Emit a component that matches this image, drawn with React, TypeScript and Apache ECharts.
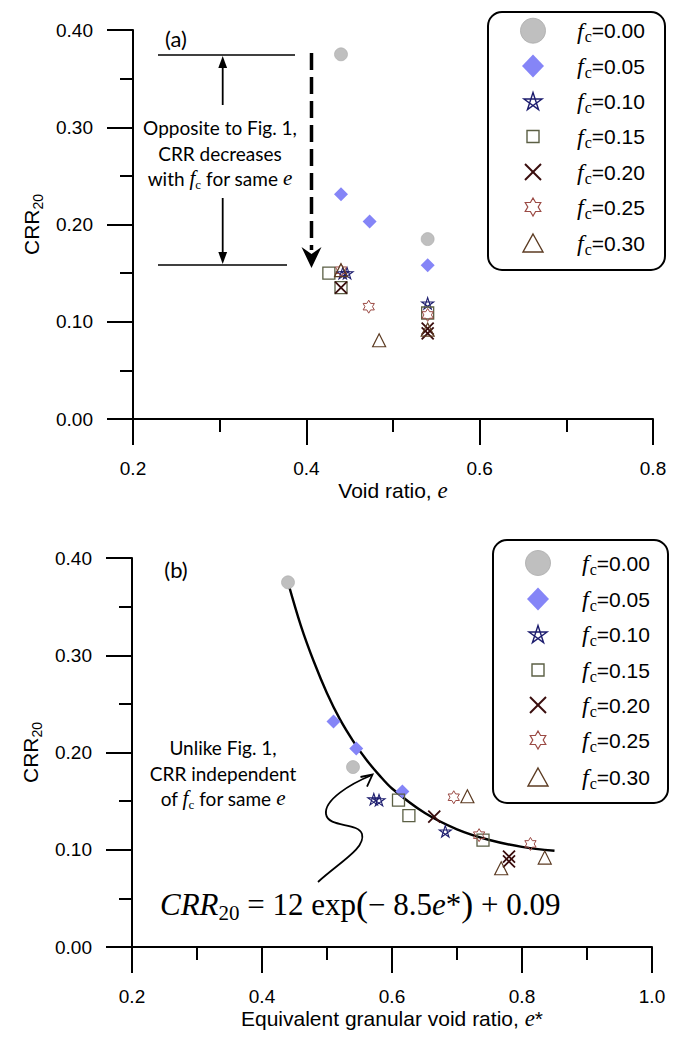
import React, { useEffect, useRef } from 'react';
import * as echarts from 'echarts';

// ---------- data ----------
const fcLabels = ['0.00', '0.05', '0.10', '0.15', '0.20', '0.25', '0.30'];

// Panel (a): CRR20 vs void ratio e
const aFc000 = [[0.44, 0.375], [0.54, 0.185]];
const aFc005 = [[0.44, 0.231], [0.473, 0.203], [0.54, 0.158]];
const aFc010 = [[0.442, 0.150], [0.447, 0.150], [0.54, 0.119]];
const aFc015 = [[0.426, 0.150], [0.44, 0.135], [0.54, 0.109]];
const aFc020 = [[0.44, 0.135], [0.54, 0.093], [0.54, 0.088]];
const aFc025 = [[0.44, 0.153], [0.472, 0.1155], [0.54, 0.107]];
const aFc030 = [[0.44, 0.153], [0.484, 0.081], [0.54, 0.092]];

// Panel (b): CRR20 vs equivalent granular void ratio e*
const bFc000 = [[0.44, 0.375], [0.54, 0.185]];
const bFc005 = [[0.51, 0.232], [0.545, 0.204], [0.616, 0.160]];
const bFc010 = [[0.572, 0.152], [0.58, 0.151], [0.682, 0.119]];
const bFc015 = [[0.61, 0.151], [0.626, 0.135], [0.74, 0.110]];
const bFc020 = [[0.665, 0.134], [0.78, 0.093], [0.78, 0.088]];
const bFc025 = [[0.695, 0.154], [0.734, 0.115], [0.813, 0.106]];
const bFc030 = [[0.716, 0.155], [0.768, 0.081], [0.835, 0.092]];

// fitted curve CRR20 = 12 exp(-8.5 e*) + 0.09
const curveX = [0.44, 0.46, 0.48, 0.50, 0.52, 0.54, 0.56, 0.58, 0.60, 0.65, 0.70, 0.75, 0.80, 0.85];
const curveY = [0.375, 0.330, 0.293, 0.261, 0.234, 0.212, 0.193, 0.177, 0.163, 0.138, 0.121, 0.110, 0.103, 0.099];

const yTicks = [0, 0.1, 0.2, 0.3, 0.4];

// ---------- styles ----------
const SANS = '"Liberation Sans", Arial, sans-serif';
const SERIF = '"Liberation Serif", "Times New Roman", serif';
const NOTE = 'Lato, "Open Sans", sans-serif';

const C_CIRCLE = '#bfbfbf';
const C_CIRCLE_B = '#a9a9a9';
const C_DIAMOND = '#8585f7';
const C_STAR = '#1c1c6e';
const C_SQUARE = '#5b5f44';
const C_CROSS = '#3a0d0d';
const C_STAR6 = '#9b4a44';
const C_TRI = '#5c3b22';

function starPts(cx: number, cy: number, r: number, ri: number, n: number) {
  const pts: number[][] = [];
  for (let k = 0; k < 2 * n; k++) {
    const ang = (-90 + (180 / n) * k) * Math.PI / 180;
    const rr = k % 2 === 0 ? r : ri;
    pts.push([cx + rr * Math.cos(ang), cy + rr * Math.sin(ang)]);
  }
  return pts;
}
function pentagramPts(cx: number, cy: number, r: number) {
  const v: number[][] = [];
  for (let k = 0; k < 5; k++) {
    const ang = (-90 + 72 * k) * Math.PI / 180;
    v.push([cx + r * Math.cos(ang), cy + r * Math.sin(ang)]);
  }
  return [v[0], v[2], v[4], v[1], v[3]];
}
function toPath(pts: number[][]) {
  return 'path://M' + pts.map((p) => p[0].toFixed(3) + ' ' + p[1].toFixed(3)).join(' L') + ' Z';
}
const PENTAGRAM = toPath(pentagramPts(10, 10, 10));
const HEXAGRAM = toPath(starPts(10, 10, 10, 10 / Math.sqrt(3), 6));
const CROSS = 'path://M0 0 L10 10 M10 0 L0 10';

echarts.graphic.registerShape(
  'squiggle',
  echarts.graphic.extendPath('M318,882 C340,862 366,848 362,834 C358,822 328,828 326,814 C324,800 350,784 372,775', {})
);

const seriesDefs = [
  { sym: 'circle', size: 13, keep: false, style: { color: C_CIRCLE, borderColor: C_CIRCLE_B, borderWidth: 0.6, opacity: 1 } },
  { sym: 'diamond', size: 14, keep: false, style: { color: C_DIAMOND, opacity: 1 } },
  { sym: PENTAGRAM, size: 12, keep: true, style: { color: 'rgba(0,0,0,0)', borderColor: C_STAR, borderWidth: 1.1, opacity: 1 } },
  { sym: 'rect', size: 12, keep: false, style: { color: 'rgba(0,0,0,0)', borderColor: C_SQUARE, borderWidth: 1.3, opacity: 1 } },
  { sym: CROSS, size: 12, keep: true, style: { color: 'rgba(0,0,0,0)', borderColor: C_CROSS, borderWidth: 1.8, opacity: 1 } },
  { sym: HEXAGRAM, size: 13, keep: true, style: { color: 'rgba(0,0,0,0)', borderColor: C_STAR6, borderWidth: 1, opacity: 1 } },
  { sym: 'triangle', size: 13, keep: false, style: { color: 'rgba(0,0,0,0)', borderColor: C_TRI, borderWidth: 1.2, opacity: 1 } },
];

const aData = [aFc000, aFc005, aFc010, aFc015, aFc020, aFc025, aFc030];
const bData = [bFc000, bFc005, bFc010, bFc015, bFc020, bFc025, bFc030];

function scatterSeries(data: number[][][], idx: number) {
  return data.map((d, i) => ({
    type: 'scatter',
    name: 'fc=' + fcLabels[i] + (idx === 0 ? ' (a)' : ' (b)'),
    data: d,
    xAxisIndex: idx,
    yAxisIndex: idx,
    symbol: seriesDefs[i].sym,
    symbolSize: seriesDefs[i].size,
    symbolKeepAspect: seriesDefs[i].keep,
    itemStyle: seriesDefs[i].style,
    silent: true,
    z: 3 + i,
  }));
}

const axisCommon = {
  axisLine: { show: true, onZero: false, lineStyle: { color: '#000', width: 2 } },
  axisTick: { show: true, inside: false, length: 26, lineStyle: { color: '#000', width: 2 } },
  minorTick: { show: true, splitNumber: 2, length: 13, lineStyle: { color: '#000', width: 2 } },
  splitLine: { show: false },
  minorSplitLine: { show: false },
};

function xAxis(idx: number, max: number, name: string) {
  return {
    type: 'value',
    gridIndex: idx,
    min: 0.2,
    max,
    interval: 0.2,
    ...axisCommon,
    axisLabel: { color: '#000', fontFamily: SANS, fontSize: 19, margin: 40, formatter: (v: number) => v.toFixed(1) },
    name,
    nameLocation: 'middle',
    nameGap: 50,
    nameTextStyle: {
      rich: {
        a: { fontFamily: SANS, fontSize: 21, color: '#000' },
        e: { fontFamily: SERIF, fontStyle: 'italic', fontSize: 23, color: '#000' },
      },
    },
  };
}

function yAxis(idx: number) {
  return {
    type: 'value',
    gridIndex: idx,
    min: yTicks[0],
    max: yTicks[yTicks.length - 1],
    interval: 0.1,
    ...axisCommon,
    axisLabel: { color: '#000', fontFamily: SANS, fontSize: 19, margin: 40, formatter: (v: number) => v.toFixed(2) },
    name: '{a|CRR}{s|20}',
    nameLocation: 'middle',
    nameGap: 88,
    nameTextStyle: {
      rich: {
        a: { fontFamily: SANS, fontSize: 21, lineHeight: 24, color: '#000' },
        s: { fontFamily: SANS, fontSize: 14, lineHeight: 14, padding: [14, 0, 0, 0], color: '#000' },
      },
    },
  };
}

// ---------- legend (drawn) ----------
function legendSymbol(i: number, cx: number, cy: number): any[] {
  switch (i) {
    case 0:
      return [{ type: 'circle', shape: { cx, cy, r: 12.5 }, style: { fill: C_CIRCLE, stroke: C_CIRCLE_B, lineWidth: 0.8 } }];
    case 1:
      return [{ type: 'polygon', shape: { points: [[cx, cy - 11.5], [cx + 11, cy], [cx, cy + 11.5], [cx - 11, cy]] }, style: { fill: C_DIAMOND } }];
    case 2:
      return [{ type: 'polygon', shape: { points: pentagramPts(cx, cy + 1, 9.5) }, style: { fill: 'none', stroke: C_STAR, lineWidth: 1.4 } }];
    case 3:
      return [{ type: 'rect', shape: { x: cx - 6, y: cy - 6, width: 12, height: 12 }, style: { fill: 'none', stroke: C_SQUARE, lineWidth: 1.4 } }];
    case 4:
      return [
        { type: 'line', shape: { x1: cx - 8, y1: cy - 8, x2: cx + 8, y2: cy + 8 }, style: { stroke: C_CROSS, lineWidth: 2 } },
        { type: 'line', shape: { x1: cx + 8, y1: cy - 8, x2: cx - 8, y2: cy + 8 }, style: { stroke: C_CROSS, lineWidth: 2 } },
      ];
    case 5:
      return [{ type: 'polygon', shape: { points: starPts(cx, cy, 9, 5.2, 6) }, style: { fill: 'none', stroke: C_STAR6, lineWidth: 1.2 } }];
    default:
      return [{ type: 'polygon', shape: { points: [[cx, cy - 9], [cx + 10, cy + 9], [cx - 10, cy + 9]] }, style: { fill: 'none', stroke: C_TRI, lineWidth: 1.4 } }];
  }
}

function legend(x: number, y: number, w: number, h: number, symX: number, textX: number, rows: number[]) {
  const els: any[] = [
    { type: 'rect', shape: { x, y, width: w, height: h, r: 14 }, style: { fill: '#fff', stroke: '#000', lineWidth: 2 }, z: 10 },
  ];
  rows.forEach((ry, i) => {
    legendSymbol(i, symX, ry).forEach((e) => els.push({ ...e, z: 11 }));
    els.push({
      type: 'text',
      x: textX,
      y: ry,
      z: 11,
      style: {
        text: '{f|f}{c|c}{t|=' + fcLabels[i] + '}',
        align: 'left',
        verticalAlign: 'middle',
        rich: {
          f: { fontFamily: SERIF, fontStyle: 'italic', fontSize: 24, lineHeight: 24, fill: '#000' },
          c: { fontFamily: SERIF, fontSize: 16, lineHeight: 14, padding: [12, 0, 0, 1], fill: '#000' },
          t: { fontFamily: SANS, fontSize: 21, lineHeight: 24, fill: '#000' },
        },
      },
    });
  });
  return els;
}

function noteLine(x: number, y: number, text: string, size = 19) {
  return {
    type: 'text',
    x,
    y,
    z: 12,
    style: {
      text,
      align: 'center',
      verticalAlign: 'middle',
      rich: {
        n: { fontFamily: NOTE, fontSize: size, lineHeight: 24, fill: '#000' },
        f: { fontFamily: SERIF, fontStyle: 'italic', fontSize: 21, lineHeight: 24, fill: '#000' },
        c: { fontFamily: SERIF, fontSize: 13, lineHeight: 12, padding: [12, 0, 0, 0], fill: '#000' },
        e: { fontFamily: SERIF, fontStyle: 'italic', fontSize: 21, lineHeight: 24, fill: '#000' },
      },
    },
  };
}

const annotationsA: any[] = [
  { type: 'text', x: 176, y: 38, style: { text: '(a)', fontFamily: NOTE, fontSize: 22, fill: '#000', align: 'center', verticalAlign: 'middle' } },
  { type: 'line', shape: { x1: 158, y1: 55, x2: 295, y2: 55 }, style: { stroke: '#000', lineWidth: 1.6 } },
  { type: 'line', shape: { x1: 158, y1: 265, x2: 287, y2: 265 }, style: { stroke: '#000', lineWidth: 1.6 } },
  { type: 'line', shape: { x1: 222.7, y1: 105, x2: 222.7, y2: 64 }, style: { stroke: '#000', lineWidth: 1.8 } },
  { type: 'polygon', shape: { points: [[222.7, 56], [218.3, 68], [227.1, 68]] }, style: { fill: '#000' } },
  { type: 'line', shape: { x1: 222.7, y1: 198, x2: 222.7, y2: 256 }, style: { stroke: '#000', lineWidth: 1.8 } },
  { type: 'polygon', shape: { points: [[222.7, 264], [218.3, 252], [227.1, 252]] }, style: { fill: '#000' } },
  { type: 'line', shape: { x1: 311.5, y1: 53, x2: 311.5, y2: 250 }, style: { stroke: '#000', lineWidth: 3.5, lineDash: [17, 7] } },
  { type: 'polygon', shape: { points: [[301.5, 247], [311.5, 254], [321.5, 247], [311.5, 268]] }, style: { fill: '#000' } },
  noteLine(220, 127, '{n|Opposite to Fig. 1,}'),
  noteLine(220, 153, '{n|CRR decreases}'),
  noteLine(220, 178, '{n|with }{f|f}{c|c}{n| for same }{e|e}'),
];

const annotationsB: any[] = [
  { type: 'text', x: 176, y: 569, style: { text: '(b)', fontFamily: NOTE, fontSize: 22, fill: '#000', align: 'center', verticalAlign: 'middle' } },
  noteLine(223, 747, '{n|Unlike Fig. 1,}'),
  noteLine(223, 773, '{n|CRR independent}'),
  noteLine(223, 798, '{n|of }{f|f}{c|c}{n| for same }{e|e}'),
  { type: 'squiggle', x: 0, y: 0, z: 12, style: { fill: 'none', stroke: '#000', lineWidth: 1.8 } },
  { type: 'polyline', z: 12, shape: { points: [[360.5, 777], [372.5, 774.5], [367, 786.5]] }, style: { fill: 'none', stroke: '#000', lineWidth: 1.8 } },
  {
    type: 'text',
    x: 160,
    y: 904,
    z: 12,
    style: {
      text: '{i|CRR}{s|20}{n| = 12 exp}{p|(}{n|− 8.5}{i|e}{n|*}{p|)}{n| + 0.09}',
      align: 'left',
      verticalAlign: 'middle',
      rich: {
        i: { fontFamily: SERIF, fontStyle: 'italic', fontSize: 31, lineHeight: 34, fill: '#000' },
        s: { fontFamily: SERIF, fontSize: 21, lineHeight: 20, padding: [17, 0, 0, 0], fill: '#000' },
        n: { fontFamily: SERIF, fontSize: 31, lineHeight: 34, fill: '#000' },
        p: { fontFamily: SERIF, fontSize: 36, lineHeight: 34, fill: '#000' },
      },
    },
  },
];

export default function App() {
  const ref = useRef<HTMLDivElement>(null);
  useEffect(() => {
    if (!ref.current) return;
    const chart = echarts.init(ref.current, null, { renderer: 'svg' });
    const curve = curveX.map((x, i) => [x, curveY[i]]);
    const option: any = {
      animation: false,
      backgroundColor: '#fff',
      grid: [
        { left: 133, top: 30, width: 520, height: 389 },
        { left: 132, top: 558, width: 520, height: 389 },
      ],
      xAxis: [xAxis(0, 0.8, '{a|Void ratio, }{e|e}'), xAxis(1, 1.0, '{a|Equivalent granular void ratio, }{e|e}{a|*}')],
      yAxis: [yAxis(0), yAxis(1)],
      series: [
        {
          type: 'line',
          name: 'fit',
          data: curve,
          xAxisIndex: 1,
          yAxisIndex: 1,
          smooth: 0.35,
          showSymbol: false,
          symbol: 'none',
          lineStyle: { color: '#000', width: 2.4 },
          silent: true,
          z: 2,
        },
        ...scatterSeries(aData, 0),
        ...scatterSeries(bData, 1),
      ],
      graphic: [
        ...annotationsA,
        ...annotationsB,
        ...legend(488, 12, 177, 258, 533, 577, [30.7, 66, 101, 136.5, 172, 207, 243]),
        ...legend(493, 540, 175, 263, 538, 582, [563, 599, 634, 670, 705, 740, 777]),
      ],
    };
    chart.setOption(option);
    return () => chart.dispose();
  }, []);
  return <div ref={ref} style={{ position: 'absolute', left: 0, top: 0, width: 685, height: 1050, background: '#fff' }} />;
}
